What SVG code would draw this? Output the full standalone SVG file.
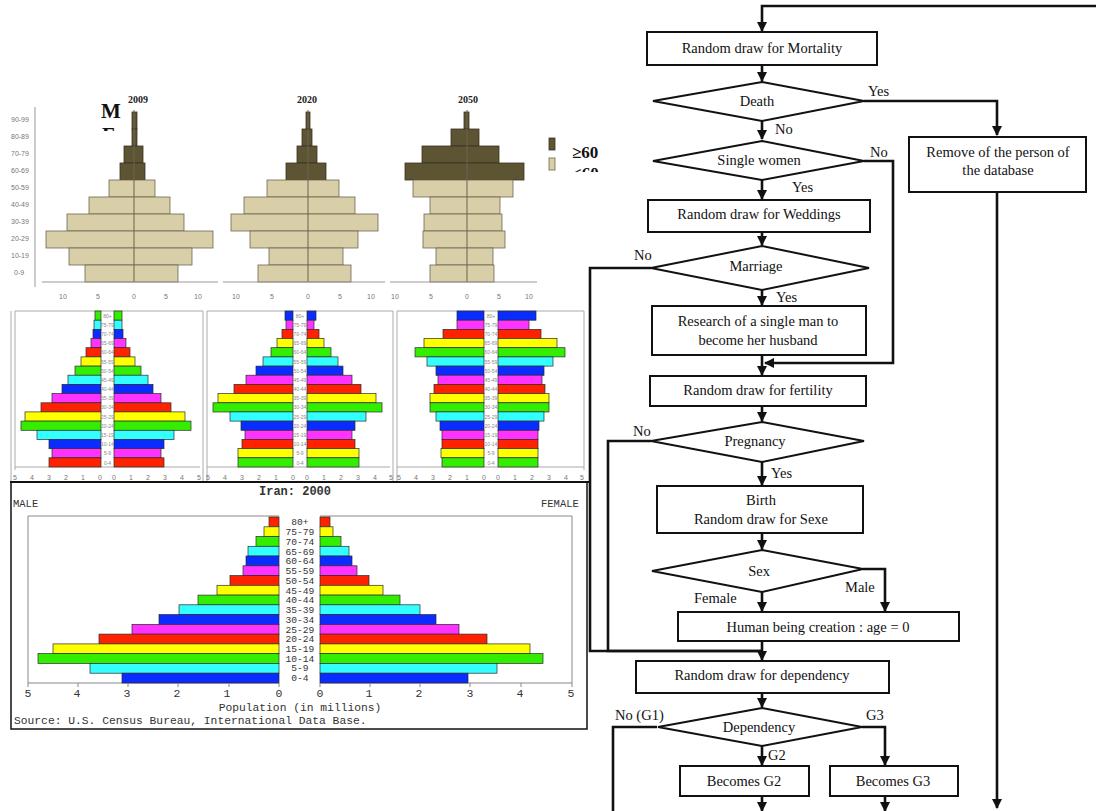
<svg xmlns="http://www.w3.org/2000/svg" width="1096" height="811" viewBox="0 0 1096 811">
<defs>
<style>
.bg{fill:#fff}
.lt{fill:#d8cea8;stroke:#6e6650;stroke-width:0.8}
.dk{fill:#5d5434;stroke:#3a3320;stroke-width:0.8}
.gl{font-family:"Liberation Sans",Arial,sans-serif;font-size:7px;fill:#777}
.sl{font-family:"Liberation Sans",Arial,sans-serif;font-size:5px;fill:#888;text-anchor:middle}
.gax{stroke:#999;stroke-width:1;fill:none}
.yr{font-family:"Liberation Serif","Times New Roman",serif;font-weight:bold;font-size:10px;fill:#222;text-anchor:middle}
.big{font-family:"Liberation Serif","Times New Roman",serif;font-weight:bold;fill:#111}
.B{fill:#0a2cff}.Mg{fill:#ff33ff}.R{fill:#ff2200}.Y{fill:#ffff00}.G{fill:#33ee00}.C{fill:#33ffff}
.cb rect{stroke:#2a2a2a;stroke-width:0.7}
.frm{stroke:#aaa;stroke-width:1;fill:none}
.mono{font-family:"Liberation Mono","Courier New",monospace;fill:#333}
.fc{font-family:"Liberation Serif","Times New Roman",serif;font-size:14.5px;fill:#111}
.mid{text-anchor:middle}
.box{fill:#fff;stroke:#111;stroke-width:2}
.con{fill:none;stroke:#111;stroke-width:2.6}
</style>
<marker id="ah" viewBox="0 0 10 10" refX="9" refY="5" markerWidth="4" markerHeight="4" orient="auto" markerUnits="strokeWidth">
<path d="M0,0 L10,5 L0,10 z" fill="#111"/>
</marker>
<clipPath id="cF"><rect x="95" y="120" width="40" height="11"/></clipPath>
<clipPath id="cL"><rect x="565" y="160" width="50" height="12"/></clipPath>
</defs>
<rect class="bg" x="0" y="0" width="1096" height="811"/>

<!-- ===== Top pyramids 2009/2020/2050 ===== -->
<g id="top-pyramids">
<text class="big" x="101" y="118" font-size="21">M</text>
<text class="big" x="102" y="142" font-size="21" clip-path="url(#cF)">F</text>
<text class="yr" x="138" y="103">2009</text>
<text class="yr" x="307" y="103">2020</text>
<text class="yr" x="468" y="103">2050</text>
<line class="gax" x1="35" y1="107" x2="35" y2="287"/>
<g class="gl">
<text x="11" y="122">90-99</text><text x="11" y="139">80-89</text><text x="11" y="156">70-79</text><text x="11" y="173">60-69</text><text x="11" y="190">50-59</text><text x="11" y="207">40-49</text><text x="11" y="224">30-39</text><text x="11" y="241">20-29</text><text x="11" y="258">10-19</text><text x="14" y="275">0-9</text>
</g>
<rect class="dk" x="132" y="112" width="5" height="17"/>
<rect class="dk" x="132" y="129" width="5" height="17"/>
<rect class="dk" x="124" y="146" width="19" height="17"/>
<rect class="dk" x="120" y="163" width="25" height="17"/>
<rect class="lt" x="109" y="180" width="46" height="17"/>
<rect class="lt" x="89" y="197" width="81" height="17"/>
<rect class="lt" x="67" y="214" width="117" height="17"/>
<rect class="lt" x="46" y="231" width="167" height="17"/>
<rect class="lt" x="69" y="248" width="123" height="17"/>
<rect class="lt" x="85" y="265" width="93" height="17"/>
<line x1="134" y1="110" x2="134" y2="282" stroke="#6b6350" stroke-width="1"/>
<line class="gax" x1="42" y1="282" x2="218" y2="282"/>
<rect class="dk" x="306" y="112" width="4" height="17"/>
<rect class="dk" x="302" y="129" width="10" height="17"/>
<rect class="dk" x="297" y="146" width="20" height="17"/>
<rect class="dk" x="286" y="163" width="40" height="17"/>
<rect class="lt" x="267" y="180" width="72" height="17"/>
<rect class="lt" x="244" y="197" width="111" height="17"/>
<rect class="lt" x="231" y="214" width="147" height="17"/>
<rect class="lt" x="250" y="231" width="108" height="17"/>
<rect class="lt" x="269" y="248" width="74" height="17"/>
<rect class="lt" x="258" y="265" width="93" height="17"/>
<line x1="308" y1="110" x2="308" y2="282" stroke="#6b6350" stroke-width="1"/>
<line class="gax" x1="223" y1="282" x2="385" y2="282"/>
<rect class="dk" x="464" y="112" width="5" height="17"/>
<rect class="dk" x="451" y="129" width="28" height="17"/>
<rect class="dk" x="422" y="146" width="77" height="17"/>
<rect class="dk" x="405" y="163" width="119" height="17"/>
<rect class="lt" x="413" y="180" width="100" height="17"/>
<rect class="lt" x="430" y="197" width="70" height="17"/>
<rect class="lt" x="424" y="214" width="78" height="17"/>
<rect class="lt" x="423" y="231" width="82" height="17"/>
<rect class="lt" x="436" y="248" width="57" height="17"/>
<rect class="lt" x="430" y="265" width="64" height="17"/>
<line x1="467" y1="110" x2="467" y2="282" stroke="#6b6350" stroke-width="1"/>
<line class="gax" x1="390" y1="282" x2="537" y2="282"/>
<g class="gl" text-anchor="middle">
<text x="63" y="299">10</text><text x="98" y="299">5</text><text x="134" y="299">0</text><text x="166" y="299">5</text><text x="198" y="299">10</text>
<text x="236" y="299">10</text><text x="272" y="299">5</text><text x="308" y="299">0</text><text x="340" y="299">5</text><text x="371" y="299">10</text>
<text x="395" y="299">10</text><text x="431" y="299">5</text><text x="467" y="299">0</text><text x="499" y="299">5</text><text x="529" y="299">10</text>
</g>
<rect class="dk" x="549" y="138" width="6" height="12" stroke="none"/>
<rect class="lt" x="549" y="158" width="6" height="12" stroke="none"/>
<text class="big" x="572" y="158" font-size="17">≥60</text>
<text class="big" x="572" y="179" font-size="17" clip-path="url(#cL)">&lt;60</text>
</g>

<!-- ===== Coloured pyramids (three panels) ===== -->
<g id="color-pyramids" class="cb">
<g class="frm">
<line x1="11" y1="311" x2="11" y2="482"/><line x1="15" y1="311" x2="15" y2="470"/>
<line x1="15" y1="311" x2="203" y2="311"/>
<line x1="203" y1="311" x2="203" y2="482"/><line x1="207" y1="311" x2="207" y2="482"/>
<line x1="207" y1="311" x2="393" y2="311"/>
<line x1="393" y1="311" x2="393" y2="482"/><line x1="397" y1="311" x2="397" y2="482"/>
<line x1="397" y1="311" x2="584" y2="311"/>
<line x1="584" y1="311" x2="584" y2="470"/>
<line x1="15" y1="467" x2="200" y2="467"/><line x1="207" y1="467" x2="390" y2="467"/><line x1="397" y1="467" x2="584" y2="467"/>
</g>
<rect class="G" x="95" y="311" width="6" height="9.2"/>
<rect class="C" x="94" y="320.2" width="7" height="9.2"/>
<rect class="B" x="93" y="329.4" width="8" height="9.2"/>
<rect class="Mg" x="91" y="338.5" width="10" height="9.2"/>
<rect class="R" x="86" y="347.7" width="15" height="9.2"/>
<rect class="Y" x="81" y="356.9" width="20" height="9.2"/>
<rect class="G" x="75" y="366.1" width="26" height="9.2"/>
<rect class="C" x="68" y="375.2" width="33" height="9.2"/>
<rect class="B" x="62" y="384.4" width="39" height="9.2"/>
<rect class="Mg" x="52" y="393.6" width="49" height="9.2"/>
<rect class="R" x="41" y="402.8" width="60" height="9.2"/>
<rect class="Y" x="25" y="411.9" width="76" height="9.2"/>
<rect class="G" x="21" y="421.1" width="80" height="9.2"/>
<rect class="C" x="37" y="430.3" width="64" height="9.2"/>
<rect class="B" x="49" y="439.5" width="52" height="9.2"/>
<rect class="Mg" x="52" y="448.6" width="49" height="9.2"/>
<rect class="R" x="49" y="457.8" width="52" height="9.2"/>
<rect class="G" x="114" y="311" width="8" height="9.2"/>
<rect class="C" x="114" y="320.2" width="8" height="9.2"/>
<rect class="B" x="114" y="329.4" width="9" height="9.2"/>
<rect class="Mg" x="114" y="338.5" width="12" height="9.2"/>
<rect class="R" x="114" y="347.7" width="16" height="9.2"/>
<rect class="Y" x="114" y="356.9" width="21" height="9.2"/>
<rect class="G" x="114" y="366.1" width="27" height="9.2"/>
<rect class="C" x="114" y="375.2" width="34" height="9.2"/>
<rect class="B" x="114" y="384.4" width="39" height="9.2"/>
<rect class="Mg" x="114" y="393.6" width="47" height="9.2"/>
<rect class="R" x="114" y="402.8" width="57" height="9.2"/>
<rect class="Y" x="114" y="411.9" width="71" height="9.2"/>
<rect class="G" x="114" y="421.1" width="77" height="9.2"/>
<rect class="C" x="114" y="430.3" width="60" height="9.2"/>
<rect class="B" x="114" y="439.5" width="50" height="9.2"/>
<rect class="Mg" x="114" y="448.6" width="47" height="9.2"/>
<rect class="R" x="114" y="457.8" width="50" height="9.2"/>
<rect class="B" x="285" y="311" width="8" height="9.2"/>
<rect class="Mg" x="286" y="320.2" width="7" height="9.2"/>
<rect class="R" x="282" y="329.4" width="11" height="9.2"/>
<rect class="Y" x="277" y="338.5" width="16" height="9.2"/>
<rect class="G" x="271" y="347.7" width="22" height="9.2"/>
<rect class="C" x="263" y="356.9" width="30" height="9.2"/>
<rect class="B" x="256" y="366.1" width="37" height="9.2"/>
<rect class="Mg" x="246" y="375.2" width="47" height="9.2"/>
<rect class="R" x="234" y="384.4" width="59" height="9.2"/>
<rect class="Y" x="218" y="393.6" width="75" height="9.2"/>
<rect class="G" x="213" y="402.8" width="80" height="9.2"/>
<rect class="C" x="230" y="411.9" width="63" height="9.2"/>
<rect class="B" x="241" y="421.1" width="52" height="9.2"/>
<rect class="Mg" x="245" y="430.3" width="48" height="9.2"/>
<rect class="R" x="242" y="439.5" width="51" height="9.2"/>
<rect class="Y" x="238" y="448.6" width="55" height="9.2"/>
<rect class="G" x="238" y="457.8" width="55" height="9.2"/>
<rect class="B" x="307" y="311" width="9" height="9.2"/>
<rect class="Mg" x="307" y="320.2" width="7" height="9.2"/>
<rect class="R" x="307" y="329.4" width="12" height="9.2"/>
<rect class="Y" x="307" y="338.5" width="17" height="9.2"/>
<rect class="G" x="307" y="347.7" width="24" height="9.2"/>
<rect class="C" x="307" y="356.9" width="31" height="9.2"/>
<rect class="B" x="307" y="366.1" width="36" height="9.2"/>
<rect class="Mg" x="307" y="375.2" width="45" height="9.2"/>
<rect class="R" x="307" y="384.4" width="54" height="9.2"/>
<rect class="Y" x="307" y="393.6" width="69" height="9.2"/>
<rect class="G" x="307" y="402.8" width="75" height="9.2"/>
<rect class="C" x="307" y="411.9" width="59" height="9.2"/>
<rect class="B" x="307" y="421.1" width="48" height="9.2"/>
<rect class="Mg" x="307" y="430.3" width="45" height="9.2"/>
<rect class="R" x="307" y="439.5" width="48" height="9.2"/>
<rect class="Y" x="307" y="448.6" width="52" height="9.2"/>
<rect class="G" x="307" y="457.8" width="52" height="9.2"/>
<rect class="B" x="457" y="311" width="27" height="9.2"/>
<rect class="Mg" x="457" y="320.2" width="27" height="9.2"/>
<rect class="R" x="443" y="329.4" width="41" height="9.2"/>
<rect class="Y" x="424" y="338.5" width="60" height="9.2"/>
<rect class="G" x="415" y="347.7" width="69" height="9.2"/>
<rect class="C" x="427" y="356.9" width="57" height="9.2"/>
<rect class="B" x="436" y="366.1" width="48" height="9.2"/>
<rect class="Mg" x="438" y="375.2" width="46" height="9.2"/>
<rect class="R" x="434" y="384.4" width="50" height="9.2"/>
<rect class="Y" x="430" y="393.6" width="54" height="9.2"/>
<rect class="G" x="430" y="402.8" width="54" height="9.2"/>
<rect class="C" x="436" y="411.9" width="48" height="9.2"/>
<rect class="B" x="440" y="421.1" width="44" height="9.2"/>
<rect class="Mg" x="442" y="430.3" width="42" height="9.2"/>
<rect class="R" x="442" y="439.5" width="42" height="9.2"/>
<rect class="Y" x="441" y="448.6" width="43" height="9.2"/>
<rect class="G" x="442" y="457.8" width="42" height="9.2"/>
<rect class="B" x="498" y="311" width="38" height="9.2"/>
<rect class="Mg" x="498" y="320.2" width="31" height="9.2"/>
<rect class="R" x="498" y="329.4" width="43" height="9.2"/>
<rect class="Y" x="498" y="338.5" width="59" height="9.2"/>
<rect class="G" x="498" y="347.7" width="67" height="9.2"/>
<rect class="C" x="498" y="356.9" width="55" height="9.2"/>
<rect class="B" x="498" y="366.1" width="46" height="9.2"/>
<rect class="Mg" x="498" y="375.2" width="44" height="9.2"/>
<rect class="R" x="498" y="384.4" width="47" height="9.2"/>
<rect class="Y" x="498" y="393.6" width="51" height="9.2"/>
<rect class="G" x="498" y="402.8" width="51" height="9.2"/>
<rect class="C" x="498" y="411.9" width="46" height="9.2"/>
<rect class="B" x="498" y="421.1" width="41" height="9.2"/>
<rect class="Mg" x="498" y="430.3" width="40" height="9.2"/>
<rect class="R" x="498" y="439.5" width="40" height="9.2"/>
<rect class="Y" x="498" y="448.6" width="40" height="9.2"/>
<rect class="G" x="498" y="457.8" width="40" height="9.2"/>
<!-- tiny age labels in the central strips -->
<g class="sl">
<text x="107.5" y="318">80+</text><text x="107.5" y="327">75-79</text><text x="107.5" y="336">70-74</text><text x="107.5" y="345">65-69</text><text x="107.5" y="354">60-64</text><text x="107.5" y="364">55-59</text><text x="107.5" y="373">50-54</text><text x="107.5" y="382">45-49</text><text x="107.5" y="391">40-44</text><text x="107.5" y="400">35-39</text><text x="107.5" y="409">30-34</text><text x="107.5" y="419">25-29</text><text x="107.5" y="428">20-24</text><text x="107.5" y="437">15-19</text><text x="107.5" y="446">10-14</text><text x="107.5" y="455">5-9</text><text x="107.5" y="465">0-4</text>
<text x="300" y="318">80+</text><text x="300" y="327">75-79</text><text x="300" y="336">70-74</text><text x="300" y="345">65-69</text><text x="300" y="354">60-64</text><text x="300" y="364">55-59</text><text x="300" y="373">50-54</text><text x="300" y="382">45-49</text><text x="300" y="391">40-44</text><text x="300" y="400">35-39</text><text x="300" y="409">30-34</text><text x="300" y="419">25-29</text><text x="300" y="428">20-24</text><text x="300" y="437">15-19</text><text x="300" y="446">10-14</text><text x="300" y="455">5-9</text><text x="300" y="465">0-4</text>
<text x="491" y="318">80+</text><text x="491" y="327">75-79</text><text x="491" y="336">70-74</text><text x="491" y="345">65-69</text><text x="491" y="354">60-64</text><text x="491" y="364">55-59</text><text x="491" y="373">50-54</text><text x="491" y="382">45-49</text><text x="491" y="391">40-44</text><text x="491" y="400">35-39</text><text x="491" y="409">30-34</text><text x="491" y="419">25-29</text><text x="491" y="428">20-24</text><text x="491" y="437">15-19</text><text x="491" y="446">10-14</text><text x="491" y="455">5-9</text><text x="491" y="465">0-4</text>
</g>
<g class="gl" font-size="6" text-anchor="middle">
<text x="15" y="480">5</text><text x="32" y="480">4</text><text x="49" y="480">3</text><text x="66" y="480">2</text><text x="83" y="480">1</text><text x="100" y="480">0</text>
<text x="114" y="480">0</text><text x="131" y="480">1</text><text x="148" y="480">2</text><text x="165" y="480">3</text><text x="182" y="480">4</text><text x="199" y="480">5</text>
<text x="208" y="480">5</text><text x="225" y="480">4</text><text x="242" y="480">3</text><text x="259" y="480">2</text><text x="276" y="480">1</text><text x="293" y="480">0</text>
<text x="307" y="480">0</text><text x="324" y="480">1</text><text x="341" y="480">2</text><text x="358" y="480">3</text><text x="375" y="480">4</text><text x="391" y="480">5</text>
<text x="399" y="480">5</text><text x="416" y="480">4</text><text x="433" y="480">3</text><text x="450" y="480">2</text><text x="467" y="480">1</text><text x="484" y="480">0</text>
<text x="498" y="480">0</text><text x="515" y="480">1</text><text x="532" y="480">2</text><text x="549" y="480">3</text><text x="566" y="480">4</text><text x="582" y="480">5</text>
</g>
</g>

<!-- ===== Iran 2000 pyramid ===== -->
<g id="iran-pyramid">
<rect x="11" y="482" width="576" height="247" fill="none" stroke="#111" stroke-width="1.5"/>
<line x1="10" y1="482" x2="590" y2="482" stroke="#111" stroke-width="2"/>
<text class="mono" x="259" y="495" font-size="12" font-weight="bold" fill="#111">Iran: 2000</text>
<text class="mono" x="13" y="507" font-size="10.5">MALE</text>
<text class="mono" x="541" y="507" font-size="10.5">FEMALE</text>
<g fill="none" stroke="#888" stroke-width="1">
<polyline points="279,516 28,516 28,683 279,683"/>
<polyline points="320,516 572,516 572,683 320,683"/>
</g>
<g class="cb">
<rect class="R" x="269" y="517" width="10" height="9.8"/>
<rect class="Y" x="264" y="526.8" width="15" height="9.8"/>
<rect class="G" x="256" y="536.5" width="23" height="9.8"/>
<rect class="C" x="248" y="546.3" width="31" height="9.8"/>
<rect class="B" x="246" y="556" width="33" height="9.8"/>
<rect class="Mg" x="243" y="565.8" width="36" height="9.8"/>
<rect class="R" x="230" y="575.6" width="49" height="9.8"/>
<rect class="Y" x="217" y="585.3" width="62" height="9.8"/>
<rect class="G" x="198" y="595.1" width="81" height="9.8"/>
<rect class="C" x="179" y="604.8" width="100" height="9.8"/>
<rect class="B" x="159" y="614.6" width="120" height="9.8"/>
<rect class="Mg" x="132" y="624.4" width="147" height="9.8"/>
<rect class="R" x="99" y="634.1" width="180" height="9.8"/>
<rect class="Y" x="53" y="643.9" width="226" height="9.8"/>
<rect class="G" x="38" y="653.6" width="241" height="9.8"/>
<rect class="C" x="90" y="663.4" width="189" height="9.8"/>
<rect class="B" x="122" y="673.2" width="157" height="9.8"/>
<rect class="R" x="320" y="517" width="10" height="9.8"/>
<rect class="Y" x="320" y="526.8" width="13" height="9.8"/>
<rect class="G" x="320" y="536.5" width="21" height="9.8"/>
<rect class="C" x="320" y="546.3" width="29" height="9.8"/>
<rect class="B" x="320" y="556" width="32" height="9.8"/>
<rect class="Mg" x="320" y="565.8" width="37" height="9.8"/>
<rect class="R" x="320" y="575.6" width="49" height="9.8"/>
<rect class="Y" x="320" y="585.3" width="63" height="9.8"/>
<rect class="G" x="320" y="595.1" width="80" height="9.8"/>
<rect class="C" x="320" y="604.8" width="100" height="9.8"/>
<rect class="B" x="320" y="614.6" width="116" height="9.8"/>
<rect class="Mg" x="320" y="624.4" width="139" height="9.8"/>
<rect class="R" x="320" y="634.1" width="167" height="9.8"/>
<rect class="Y" x="320" y="643.9" width="210" height="9.8"/>
<rect class="G" x="320" y="653.6" width="223" height="9.8"/>
<rect class="C" x="320" y="663.4" width="177" height="9.8"/>
<rect class="B" x="320" y="673.2" width="148" height="9.8"/>
</g>
<g class="mono" font-size="9.6" text-anchor="middle">
<text x="300" y="525">80+</text><text x="300" y="535">75-79</text><text x="300" y="545">70-74</text><text x="300" y="554.5">65-69</text><text x="300" y="564">60-64</text><text x="300" y="574">55-59</text><text x="300" y="584">50-54</text><text x="300" y="593.5">45-49</text><text x="300" y="603">40-44</text><text x="300" y="613">35-39</text><text x="300" y="623">30-34</text><text x="300" y="632.5">25-29</text><text x="300" y="642">20-24</text><text x="300" y="652">15-19</text><text x="300" y="661.5">10-14</text><text x="300" y="671">5-9</text><text x="300" y="681">0-4</text>
</g>
<g stroke="#888" stroke-width="1">
<line x1="28" y1="683" x2="28" y2="687"/><line x1="78" y1="683" x2="78" y2="687"/><line x1="128" y1="683" x2="128" y2="687"/><line x1="178" y1="683" x2="178" y2="687"/><line x1="229" y1="683" x2="229" y2="687"/><line x1="279" y1="683" x2="279" y2="687"/>
<line x1="320" y1="683" x2="320" y2="687"/><line x1="370" y1="683" x2="370" y2="687"/><line x1="420" y1="683" x2="420" y2="687"/><line x1="470" y1="683" x2="470" y2="687"/><line x1="521" y1="683" x2="521" y2="687"/><line x1="572" y1="683" x2="572" y2="687"/>
</g>
<g class="mono" font-size="11.5" text-anchor="middle">
<text x="28" y="697">5</text><text x="77" y="697">4</text><text x="127" y="697">3</text><text x="177" y="697">2</text><text x="227" y="697">1</text><text x="279" y="697">0</text>
<text x="320" y="697">0</text><text x="369" y="697">1</text><text x="419" y="697">2</text><text x="470" y="697">3</text><text x="520" y="697">4</text><text x="571" y="697">5</text>
</g>
<text class="mono" x="300" y="711" font-size="11.3" text-anchor="middle">Population (in millions)</text>
<text class="mono" x="14" y="724" font-size="11.3">Source: U.S. Census Bureau, International Data Base.</text>
</g>

<!-- ===== Flowchart ===== -->
<g id="connectors">
<path class="con" d="M1096,6 H762 V31" marker-end="url(#ah)"/>
<path class="con" d="M762,65 V81" marker-end="url(#ah)"/>
<path class="con" d="M864,101 H997 V135" marker-end="url(#ah)"/>
<path class="con" d="M762,121 V139" marker-end="url(#ah)"/>
<path class="con" d="M864,161 H893 V363 H765" marker-end="url(#ah)"/>
<path class="con" d="M762,180 V199" marker-end="url(#ah)"/>
<path class="con" d="M762,232 V245" marker-end="url(#ah)"/>
<path class="con" d="M651,268 H590 V651 H762" stroke-width="2"/>
<path class="con" d="M762,290 V305" marker-end="url(#ah)"/>
<path class="con" d="M762,355 V375" marker-end="url(#ah)"/>
<path class="con" d="M762,406 V421" marker-end="url(#ah)"/>
<path class="con" d="M651,441 H608 V651 H762" stroke-width="3.2"/>
<path class="con" d="M762,462 V485" marker-end="url(#ah)"/>
<path class="con" d="M762,533 V549" marker-end="url(#ah)"/>
<path class="con" d="M762,592 V611" marker-end="url(#ah)"/>
<path class="con" d="M863,569 H885 V611" marker-end="url(#ah)"/>
<path class="con" d="M762,641 V660" marker-end="url(#ah)"/>
<path class="con" d="M762,693 V707" marker-end="url(#ah)"/>
<path class="con" d="M657,727 H613 V811"/>
<path class="con" d="M862,727 H885 V765" marker-end="url(#ah)"/>
<path class="con" d="M762,746 V765" marker-end="url(#ah)"/>
<path class="con" d="M762,796 V811" marker-end="url(#ah)"/>
<path class="con" d="M885,796 V811" marker-end="url(#ah)"/>
<path class="con" d="M997,192 V808" marker-end="url(#ah)"/>
</g>
<g class="fc">
<text x="868" y="96">Yes</text>
<text x="775" y="134">No</text>
<text x="870" y="157">No</text>
<text x="792" y="192">Yes</text>
<text x="634" y="260">No</text>
<text x="776" y="302">Yes</text>
<text x="633" y="436">No</text>
<text x="771" y="478">Yes</text>
<text x="845" y="592">Male</text>
<text x="694" y="603">Female</text>
<text x="615" y="720">No (G1)</text>
<text x="866" y="720">G3</text>
<text x="768" y="760">G2</text>
</g>
<g id="n-mortality"><rect class="box" x="647" y="32" width="230" height="33"/><text class="fc mid" x="762" y="53">Random draw for Mortality</text></g>
<g id="n-death"><polygon class="box" points="762,82 864,101 762,121 653,101"/><text class="fc mid" x="757" y="106">Death</text></g>
<g id="n-remove"><rect class="box" x="909" y="137" width="177" height="55"/><text class="fc mid" x="998" y="157">Remove of the person of</text><text class="fc mid" x="998" y="175">the database</text></g>
<g id="n-single"><polygon class="box" points="762,141 864,161 762,180 653,161"/><text class="fc mid" x="759" y="165">Single women</text></g>
<g id="n-weddings"><rect class="box" x="648" y="200" width="222" height="32"/><text class="fc mid" x="759" y="219">Random draw for Weddings</text></g>
<g id="n-marriage"><polygon class="box" points="762,246 869,268 762,290 651,268"/><text class="fc mid" x="756" y="271">Marriage</text></g>
<g id="n-research"><rect class="box" x="652" y="306" width="214" height="49"/><text class="fc mid" x="758" y="326">Research of a single man to</text><text class="fc mid" x="758" y="345">become her husband</text></g>
<g id="n-fertility"><rect class="box" x="650" y="376" width="216" height="30"/><text class="fc mid" x="758" y="395">Random draw for fertility</text></g>
<g id="n-pregnancy"><polygon class="box" points="762,422 864,441 762,462 651,441"/><text class="fc mid" x="755" y="446">Pregnancy</text></g>
<g id="n-birth"><rect class="box" x="657" y="486" width="206" height="47"/><text class="fc mid" x="761" y="505">Birth</text><text class="fc mid" x="761" y="524">Random draw for Sexe</text></g>
<g id="n-sex"><polygon class="box" points="762,550 863,569 762,592 652,571"/><text class="fc mid" x="759" y="576">Sex</text></g>
<g id="n-human"><rect class="box" x="678" y="612" width="281" height="29"/><text class="fc mid" x="818" y="632">Human being creation : age = 0</text></g>
<g id="n-randdep"><rect class="box" x="636" y="661" width="253" height="32"/><text class="fc mid" x="762" y="680">Random draw for dependency</text></g>
<g id="n-dependency"><polygon class="box" points="762,708 862,727 762,746 658,727"/><text class="fc mid" x="759" y="732">Dependency</text></g>
<g id="n-g2"><rect class="box" x="680" y="766" width="129" height="30"/><text class="fc mid" x="744" y="786">Becomes G2</text></g>
<g id="n-g3"><rect class="box" x="830" y="766" width="128" height="30"/><text class="fc mid" x="893" y="786">Becomes G3</text></g>
</svg>
